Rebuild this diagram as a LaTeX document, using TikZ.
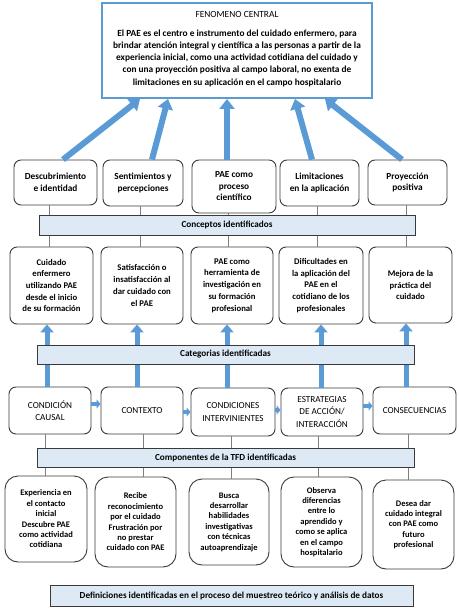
\documentclass[tikz,border=0pt]{standalone}
\usepackage{fontspec}
\setmainfont{Carlito}
\usetikzlibrary{arrows.meta,calc}
\definecolor{arrblue}{HTML}{5B9BD5}
\definecolor{barfill}{HTML}{DDEAF6}
\definecolor{boxline}{HTML}{3A3A3A}
\definecolor{glin}{HTML}{7F7F7F}
\tikzset{
  rb/.style={draw=boxline, line width=0.9pt, rounded corners=7pt, align=center, inner sep=0pt,
    font=\bfseries\fontsize{9.3}{11.5}\selectfont},
  rbtwo/.style={rb, font=\bfseries\fontsize{8.7}{11.7}\selectfont},
  rbthree/.style={rb, font=\fontsize{9.2}{12.6}\selectfont},
  rbfour/.style={rb, rounded corners=13pt, font=\bfseries\fontsize{8.5}{10.4}\selectfont},
  barbox/.style={draw=boxline, line width=0.7pt, fill=barfill, inner sep=0pt,
    font=\bfseries\fontsize{9.2}{11}\selectfont},
  topbox/.style={draw=arrblue, line width=2pt, fill=white, inner sep=0pt},
  bigarrow/.style={draw=arrblue, line width=6pt, -{Triangle[width=15pt,length=10pt]}},
  uparrow/.style={draw=arrblue, line width=5pt, -{Triangle[width=13pt,length=8pt]}},
  sidearrow/.style={draw=arrblue, line width=4pt, -{Triangle[width=9pt,length=4pt]}},
  gline/.style={draw=glin, line width=0.8pt},
  txt/.style={align=center, inner sep=0pt}
}
\begin{document}
\begin{tikzpicture}[x=1pt,y=-1pt]
\useasboundingbox[fill=white] (0,0) rectangle (458,609);

% Top box
\node[topbox, minimum width=270pt, minimum height=95pt] (fc) at (237,50.5) {};
\node[txt, font=\fontsize{9.4}{11}\selectfont] (fct) at (237,14) {FENOMENO CENTRAL};
\node[txt, font=\bfseries\fontsize{9.35}{12.25}\selectfont] (fcp) at (237,58)
  {El PAE es el centro e instrumento del cuidado enfermero, para\\
   brindar atención integral y científica a las personas a partir de la\\
   experiencia inicial, como una actividad cotidiana del cuidado y\\
   con una proyección positiva al campo laboral, no exenta de\\
   limitaciones en su aplicación en el campo hospitalario};

% Row 1
\node[rb, minimum width=83pt, minimum height=45pt] (d1) at (55.5,182.5) {Descubrimiento\\e identidad};
\node[rb, minimum width=80pt, minimum height=46pt] (d2) at (143,183) {Sentimientos y\\percepciones};
\node[rb, minimum width=84pt, minimum height=53pt] (d3) at (234,186.5) {PAE como\\proceso\\científico};
\node[rb, minimum width=79pt, minimum height=46pt] (d4) at (319.5,183) {Limitaciones\\en la aplicación};
\node[rb, minimum width=79pt, minimum height=45pt] (d5) at (407.5,182.5) {Proyección\\positiva};

% Row 2
\node[rbtwo, minimum width=83pt, minimum height=77pt] (c1) at (51.5,285.5) {Cuidado\\enfermero\\utilizando PAE\\desde el inicio\\de su formación};
\node[rbtwo, minimum width=82pt, minimum height=77pt] (c2) at (142,285.5) {Satisfacción o\\insatisfacción al\\dar cuidado con\\el PAE};
\node[rbtwo, minimum width=82pt, minimum height=77pt] (c3) at (232,285.5) {PAE como\\herramienta de\\investigación en\\su formación\\profesional};
\node[rbtwo, minimum width=84pt, minimum height=77pt] (c4) at (321,285.5) {Dificultades en\\la aplicación del\\PAE en el\\cotidiano de los\\profesionales};
\node[rbtwo, minimum width=83pt, minimum height=76pt] (c5) at (410.5,285) {Mejora de la\\práctica del\\cuidado};

% Row 3
\node[rbthree, minimum width=82pt, minimum height=47pt] (k1) at (50,410.5) {CONDICIÓN\\CAUSAL};
\node[rbthree, minimum width=82pt, minimum height=47pt] (k2) at (142,410.5) {CONTEXTO};
\node[rbthree, minimum width=84pt, minimum height=48pt] (k3) at (233,412) {CONDICIONES\\INTERVINIENTES};
\node[rbthree, minimum width=82pt, minimum height=48pt] (k4) at (322,412) {ESTRATEGIAS\\DE ACCIÓN/\\INTERACCIÓN};
\node[rbthree, minimum width=83pt, minimum height=47pt] (k5) at (414.5,410.5) {CONSECUENCIAS};

% Row 4
\node[rbfour, minimum width=82pt, minimum height=86pt] (e1) at (46,519) {Experiencia en\\el contacto\\inicial\\Descubre PAE\\como actividad\\cotidiana};
\node[rbfour, minimum width=81pt, minimum height=90pt] (e2) at (135.5,522) {Recibe\\reconocimiento\\por el cuidado\\Frustración por\\no prestar\\cuidado con PAE};
\node[rbfour, minimum width=80pt, minimum height=86pt] (e3) at (229,522) {Busca\\desarrollar\\habilidades\\investigativas\\con técnicas\\autoaprendizaje};
\node[rbfour, minimum width=81pt, minimum height=90pt] (e4) at (321.5,522) {Observa\\diferencias\\entre lo\\aprendido y\\como se aplica\\en el campo\\hospitalario};
\node[rbfour, minimum width=81pt, minimum height=89pt] (e5) at (413.5,524.5) {Desea dar\\cuidado integral\\con PAE como\\futuro\\profesional};

% Big arrows to top box
\draw[bigarrow] ($(d1.north)+(7.5,0)$) -- ($(fc.south)+(-97,0)$);
\draw[bigarrow] ($(d2.north)+(9,0)$) -- ($(fc.south)+(-69,0)$);
\draw[bigarrow] ($(d3.north)+(-7,0)$) -- ($(fc.south)+(-10,0)$);
\draw[bigarrow] ($(d4.north)+(-7.5,0)$) -- ($(fc.south)+(58,0)$);
\draw[bigarrow] ($(d5.north)+(-5.5,0)$) -- ($(fc.south)+(88,0)$);

% Gray lines row1 - row2
\draw[gline] ($(d1.south)+(-6.5,0)$) -- ($(c1.north)+(-2.5,0)$);
\draw[gline] ($(d2.south)+(-3,0)$) -- ($(c2.north)+(-2,0)$);
\draw[gline] ($(d3.south)+(-6,0)$) -- ($(c3.north)+(-4,0)$);
\draw[gline] ($(d4.south)+(-2.5,0)$) -- ($(c4.north)+(-4,0)$);
\draw[gline] ($(d5.south)+(-1.5,0)$) -- ($(c5.north)+(-4.5,0)$);

% Up arrows row3 -> row2
\draw[uparrow] ($(k1.north)+(-3,0)$) -- ($(c1.south)+(-4.5,0)$);
\draw[uparrow] ($(k2.north)+(-5,0)$) -- ($(c2.south)+(-5,0)$);
\draw[uparrow] ($(k3.north)+(-6,0)$) -- ($(c3.south)+(-5,0)$);
\draw[uparrow] ($(k4.north)+(-1,0)$) -- ($(c4.south)+(0,0)$);
\draw[uparrow] ($(k5.north)+(-8.5,0)$) -- ($(c5.south)+(-4.5,0)$);

% Side arrows row3
\draw[sidearrow] ($(k1.east)+(0,-6.5)$) -- ($(k2.west)+(0,-6.5)$);
\draw[sidearrow] ($(k2.east)+(0,1.5)$) -- ($(k3.west)+(0,0)$);
\draw[sidearrow] ($(k3.east)+(0,-2)$) -- ($(k4.west)+(0,-2)$);
\draw[sidearrow] ($(k4.east)+(0,-6)$) -- ($(k5.west)+(0,-4.5)$);

% Gray lines row3 - row4
\draw[gline] ($(k1.south)+(-5,0)$) -- ($(e1.north)+(-1,0)$);
\draw[gline] ($(k2.south)+(1,0)$) -- ($(e2.north)+(7.5,0)$);
\draw[gline] ($(k3.south)+(-2,0)$) -- ($(e3.north)+(2,0)$);
\draw[gline] ($(k4.south)+(-4,0)$) -- ($(e4.north)+(-3.5,0)$);
\draw[gline] ($(k5.south)+(-6.5,0)$) -- ($(e5.north)+(-5.5,0)$);

% Bars
\node[barbox, minimum width=376pt, minimum height=20pt] (conc) at (227,225) {Conceptos identificados};
\node[barbox, minimum width=377pt, minimum height=19pt] (cat) at (225.5,354.5) {Categorias identificadas};
\node[barbox, minimum width=377pt, minimum height=19pt] (comp) at (225.5,457.5) {Componentes de la TFD identificadas};
\node[barbox, minimum width=363pt, minimum height=21pt] (def) at (231.5,595.5) {Definiciones identificadas en el proceso del muestreo teórico y análisis de datos};
\end{tikzpicture}
\end{document}
